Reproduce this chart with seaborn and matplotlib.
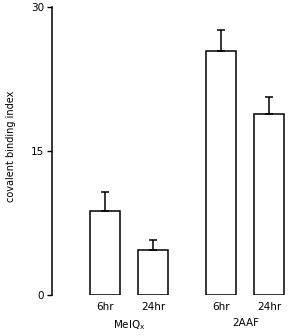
import matplotlib
matplotlib.use("Agg")
import matplotlib.pyplot as plt
import seaborn as sns
import pandas as pd
import numpy as np

groups = ["MeIQ$_\\mathregular{x}$", "MeIQ$_\\mathregular{x}$", "2AAF", "2AAF"]
times = ["6hr", "24hr", "6hr", "24hr"]
values = [8.75, 4.7, 25.4, 18.85]
errors = [2.0, 1.0, 2.2, 1.8]
yticks = [0, 15, 30]

sns.set_style("white", {"text.color": "black", "axes.labelcolor": "black",
                        "xtick.color": "black", "ytick.color": "black"})
plt.rcParams["font.family"] = ["DejaVu Sans"]

df = pd.DataFrame({"group": groups, "time": times, "value": values, "err": errors})

fig = plt.figure(figsize=(2.90, 3.36), dpi=100)
ax = fig.add_axes([0.179, 0.122, 0.821, 0.857])

sns.barplot(data=df, x="group", y="value", hue="time", ax=ax,
            width=0.824, gap=0.375, palette=["white", "white"],
            edgecolor="black", linewidth=1.1, errorbar=None, legend=False)

# bar centers from drawn patches, in data order
patches = [p for p in ax.patches if p.get_height() > 0]
patches.sort(key=lambda p: p.get_x())
centers = [p.get_x() + p.get_width() / 2 for p in patches]
heights = [p.get_height() for p in patches]
ax.errorbar(centers, heights, yerr=[np.zeros(len(errors)), errors], fmt="none",
            ecolor="black", elinewidth=1.1, capsize=3.2, capthick=1.1)

ax.set_ylim(0, 30)
ax.set_xlim(-0.661, 1.382)
ax.set_yticks(yticks)
ax.set_yticklabels([str(t) for t in yticks], fontsize=7.5)
ax.set_xticks(centers)
ax.set_xticklabels(times, fontsize=7.5)
ax.tick_params(axis="x", length=0, pad=5)
ax.tick_params(axis="y", direction="out", length=3.5, width=1, left=True, pad=2)
for s in ["top", "right", "bottom"]:
    ax.spines[s].set_visible(False)
ax.spines["left"].set_linewidth(1.1)
ax.spines["left"].set_color("black")
ax.set_xlabel("")
ax.set_ylabel("covalent binding index", fontsize=7)
ax.yaxis.set_label_coords(-0.15, 0.515)

# group labels
uniq = list(dict.fromkeys(groups))
for i, g in enumerate(uniq):
    cx = np.mean([c for c, gg in zip(centers, groups) if gg == g])
    ax.text(cx, -0.08, g, transform=ax.get_xaxis_transform(), ha="center",
            va="top", fontsize=7.5, color="black")

fig.savefig("out.png", dpi=100)
